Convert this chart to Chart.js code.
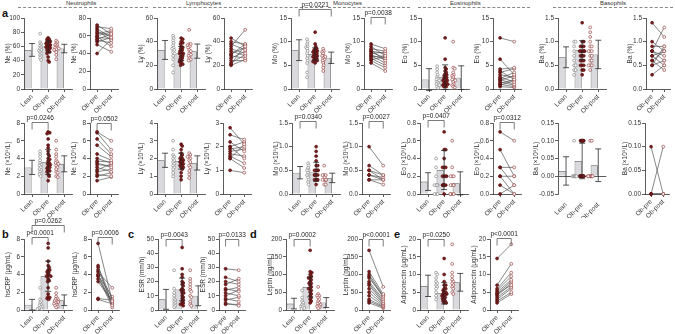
<!DOCTYPE html>
<html>
<head>
<meta charset="utf-8">
<script src="https://cdn.jsdelivr.net/npm/chart.js@4.4.1/dist/chart.umd.min.js"></script>
<style>
  body { margin:0; background:#fff; width:675px; height:334px; position:relative; overflow:hidden;
         font-family:'Liberation Sans', Arial, sans-serif; }
  canvas { position:absolute; }
  .ln { position:absolute; top:7px; height:0; border-top:1px dashed #888; }
  .st { position:absolute; top:0; font-size:6px; line-height:7px; color:#333; white-space:nowrap; }
  .lt { position:absolute; font-size:11px; font-weight:bold; color:#111; line-height:11px; }
</style>
</head>
<body>
<div class="ln" style="left:18px;width:130px"></div>
<div class="ln" style="left:153px;width:170px"></div>
<div class="ln" style="left:328px;width:82px"></div>
<div class="ln" style="left:418px;width:112px"></div>
<div class="ln" style="left:553px;width:120px"></div>
<div class="st" style="left:66px">Neutrophils</div>
<div class="st" style="left:186px">Lymphocytes</div>
<div class="st" style="left:333px">Monocytes</div>
<div class="st" style="left:450px">Eosinophils</div>
<div class="st" style="left:600px">Basophils</div>
<div class="lt" style="left:2px;top:8px">a</div>
<div class="lt" style="left:2px;top:229px">b</div>
<div class="lt" style="left:128px;top:229px">c</div>
<div class="lt" style="left:250px;top:229px">d</div>
<div class="lt" style="left:394px;top:229px">e</div>
<script>
// --- categories ---
const barCats = ['Lean', 'Ob-pre', 'Ob-post'];
const pairCats = ['Ob-pre', 'Ob-post'];

// --- row a: percentages ---
const nePctLean = [78, 66, 63, 61, 59, 57, 55, 54, 52, 50, 48, 46, 44, 41];
const nePctPre  = [72, 70, 68, 66, 64, 62, 60, 59, 58, 56, 55, 53, 50, 40];
const nePctPost = [62, 68, 58, 55, 60, 66, 64, 48, 57, 62, 52, 58, 42, 56];
const nePctPreX = [70, 67, 65, 63, 61, 58, 52, 45, 38];
const nePctMean = [55, 60, 57];
const nePctSd   = [9, 8, 6];

const lyPctLean = [45, 43, 41, 39, 37, 35, 34, 33, 31, 30, 28, 25, 20, 14];
const lyPctPre  = [43, 40, 38, 36, 34, 32, 30, 29, 28, 26, 24, 22, 21, 20];
const lyPctPost = [36, 38, 33, 50, 30, 28, 35, 38, 26, 32, 24, 29, 37, 25];
const lyPctPreX = [42, 39, 35, 33, 31, 30, 27, 25, 23];
const lyPctMean = [33, 30, 32];
const lyPctSd   = [8, 6, 6];

const moPctLean = [10.5, 10, 9.5, 9, 8.8, 8.5, 8, 7.5, 7, 6.5, 6, 5.5, 3.5, 2.5];
const moPctPre  = [9.5, 9, 8.5, 8.2, 8, 7.8, 7.5, 7.2, 7, 6.8, 6.5, 6.2, 6, 5.5];
const moPctPost = [8.5, 7, 8, 6, 7.5, 6.5, 7.8, 6.2, 5.5, 7, 5, 6.8, 4.5, 3.8];
const moPctPreX = [12, 8.5, 8, 7.5, 7, 6.5, 6, 5.8];
const moPctMean = [8.2, 7.4, 6.6];
const moPctSd   = [2.2, 1.3, 1.2];

const eoPctLean = [4.8, 4.2, 3.5, 3, 2.5, 2.2, 2, 1.8, 1.5, 1.2, 1, 0.8, 0.5, 0.2];
const eoPctPre  = [10.8, 6.3, 4.2, 3.8, 3.5, 3, 2.5, 2.2, 2, 1.8, 1.5, 1.2, 1, 0.8, 0.5];
const eoPctPost = [10, 3, 4.5, 2, 4.3, 2.5, 1.5, 3.5, 1, 2.8, 0.8, 2, 0.5, 1.8, 0.3];
const eoPctPreX = [4.5, 3.2, 2.8, 2.4, 1.8, 1.2, 0.8, 0.5];
const eoPctMean = [2.0, 2.5, 2.4];
const eoPctSd   = [2.3, 2.6, 2.5];

const baPctLean  = [1.0, 1.0, 0.9, 0.8, 0.7, 0.6, 0.5, 0.5, 0.4, 0.4, 0.3];
const baPctPre   = [1.4, 1.0, 0.9, 0.8, 0.8, 0.8, 0.7, 0.7, 0.6, 0.6, 0.5, 0.5, 0.3];
const baPctPost  = [1.1, 0.8, 0.9, 0.7, 1.3, 0.6, 0.8, 0.5, 0.8, 0.4, 0.9, 0.6, 0.5];
const baPctPreX  = [1.0, 0.9, 0.9, 0.8, 0.8, 0.8, 0.7, 0.7, 0.6, 0.5, 0.4, 0.4];
const baPctPostX = [1.2, 1.0, 0.7, 0.5];
const baPctMean  = [0.67, 0.82, 0.73];
const baPctSd    = [0.22, 0.2, 0.3];

// --- row a: absolute counts (x10^9/L) ---
const neAbsLean = [4.8, 4.5, 4.2, 3.8, 3.5, 3.3, 3.2, 3.0, 2.8, 2.7, 2.5, 2.3, 2.2, 2.0];
const neAbsPre  = [7.0, 6.9, 6.2, 5.5, 4.5, 4.0, 3.7, 3.5, 3.3, 3.0, 2.7, 2.5, 2.2, 2.0, 1.5];
const neAbsPost = [6.0, 5.0, 4.5, 4.2, 3.8, 3.5, 3.6, 3.0, 3.2, 2.5, 3.4, 2.8, 2.0, 2.4, 1.9];
const neAbsPreX = [6.8, 5.2, 4.8, 4.3, 3.9, 3.4, 3.1, 2.9, 2.6];
const neAbsMean = [3.0, 3.6, 3.4];
const neAbsSd   = [0.8, 1.4, 0.9];

const lyAbsLean = [3.0, 2.5, 2.2, 2.1, 2.0, 1.9, 1.8, 1.7, 1.6, 1.5, 1.4, 1.2, 1.0];
const lyAbsPre  = [2.8, 2.5, 2.2, 2.0, 2.0, 1.9, 1.8, 1.7, 1.6, 1.5, 1.5, 1.0];
const lyAbsPost = [2.1, 2.3, 1.8, 2.2, 1.5, 2.0, 1.9, 1.6, 1.3, 1.1, 2.1, 0.9];
const lyAbsPreX = [2.7, 2.3, 2.1, 1.9, 1.8, 1.7, 1.6, 1.4, 1.2, 0.8];
const lyAbsMean = [1.9, 1.85, 1.75];
const lyAbsSd   = [0.4, 0.45, 0.4];

const moAbsLean  = [0.65, 0.6, 0.55, 0.5, 0.5, 0.45, 0.4, 0.4, 0.35, 0.3, 0.25, 0.2];
const moAbsPre   = [1.0, 0.6, 0.5, 0.5, 0.4, 0.4, 0.3, 0.3];
const moAbsPost  = [0.6, 0.4, 0.3, 0.4, 0.3, 0.35, 0.2, 0.3];
const moAbsPreX  = [0.9, 0.8, 0.7, 0.6, 0.5, 0.5, 0.4, 0.4, 0.3, 0.3, 0.2];
const moAbsPostX = [0.4, 0.3, 0.3, 0.2];
const moAbsMean  = [0.45, 0.47, 0.34];
const moAbsSd    = [0.13, 0.2, 0.1];

const eoAbsLean  = [0.4, 0.3, 0.2, 0.1, 0.1, 0.1, 0.1, 0.1, 0.0, 0.0, 0.0];
const eoAbsPre   = [0.7, 0.5, 0.3, 0.3, 0.2, 0.2, 0.1, 0.0];
const eoAbsPost  = [0.6, 0.2, 0.3, 0.1, 0.0, 0.2, 0.0, 0.1];
const eoAbsPreX  = [0.5, 0.4, 0.3, 0.2, 0.2, 0.1, 0.1, 0.1, 0.1, 0.1];
const eoAbsPostX = [0.2, 0.1, 0.1, 0.0, 0.0];
const eoAbsMean  = [0.14, 0.27, 0.12];
const eoAbsSd    = [0.1, 0.22, 0.13];

const baAbsLean  = [0.10, 0, 0, 0, 0, 0, 0, 0, 0, 0, 0];
const baAbsPre   = [0.10, 0, 0, 0, 0];
const baAbsPost  = [0, 0.10, 0, 0, 0];
const baAbsPreX  = [0.10, 0.10, 0.10, 0.10, 0.10, 0.10, 0.10, 0, 0, 0, 0, 0, 0, 0, 0];
const baAbsPostX = [0.10, 0, 0, 0, 0, 0, 0, 0];
const baAbsMean  = [0.015, 0.043, 0.031];
const baAbsSd    = [0.04, 0.05, 0.046];

// --- rows b-e ---
const crpLean  = [2.5, 1.2, 1.0, 0.8, 0.6, 0.5, 0.4, 0.3, 0.2, 0.1, 0.1];
const crpPre   = [7.5, 5.0, 4.8, 4.5, 4.3, 4.0, 3.9, 3.8, 3.5, 3.2, 1.3, 1.2];
const crpPost  = [1.0, 0.5, 1.2, 0.8, 2.5, 0.6, 1.5, 0.3, 1.0, 0.9, 1.1, 0.7];
const crpPreX  = [7.0, 5.5, 4.5, 4.2, 3.8, 3.3, 2.5, 1.8, 1.5, 1.4];
const crpPostX = [1.9, 1.3, 0.9, 0.4];
const crpMean  = [0.6, 3.8, 1.1];
const crpSd    = [0.6, 1.7, 0.6];

const esrLean = [28, 15, 12, 10, 8, 7, 6, 5, 4, 3, 2];
const esrPre  = [29, 23, 20, 18, 15, 14, 12, 10, 8, 7, 5, 4];
const esrPost = [28, 20, 18, 22, 13, 16, 10, 14, 6, 9, 3, 4];
const esrPreX = [44, 25, 19, 17, 14, 12, 9, 6, 4, 3];
const esrMean = [7.5, 14.5, 10];
const esrSd   = [7, 8, 7];

const lepLean = [55, 35, 25, 20, 15, 12, 10, 8, 5, 3];
const lepPre  = [168, 108, 100, 95, 90, 80, 75, 70, 60, 50, 40, 30, 25, 20];
const lepPost = [65, 45, 40, 35, 40, 30, 25, 20, 18, 15, 12, 10, 8, 5];
const lepPreX = [105, 90, 85, 75, 65, 60, 55, 45, 35];
const lepMean = [18, 65, 21];
const lepSd   = [15, 28, 14];

const adpLean = [10.5, 10, 9, 8, 7.5, 7, 6.5, 6, 5, 4, 3];
const adpPre  = [14.5, 7, 6, 5.5, 5, 4.5, 4.5, 4, 3.5, 3, 2.5, 2];
const adpPost = [18.5, 13, 10.5, 9.5, 8.5, 8, 7, 7.5, 6.5, 6, 5, 4.5];
const adpPreX = [10, 8, 7, 6, 5, 4.2, 3.8, 3.2, 2.5, 2];
const adpMean = [6.8, 4.7, 7.8];
const adpSd   = [3, 3, 2.5];

// --- look ---
const FONT = "'Liberation Sans', Arial, sans-serif";
const AXIS = '#333';
const BAR_FILL = '#d9d9de', BAR_EDGE = '#555';
const LEAN_EDGE = '#8a8a8a', PRE_FILL = '#7a1f1f', PRE_EDGE = '#561010', POST_EDGE = '#9a4848';
const PAIR_LINE = '#555';
const PH = 71, YW = 24, XH = 24, PAD_R = 3, BAR_W = 50, PAIR_W = 30;
const ROW_TOP = [18, 123, 239];
const PAD_TOP = [16, 16, 22];
const DOT_R = 1.45;

Chart.defaults.font.family = FONT;
Chart.defaults.font.size = 6.5;
Chart.defaults.color = '#333';

// error bars (mean +/- SD)
Chart.register({
  id: 'errBars',
  afterDatasetsDraw(chart, args, o) {
    if (!o || !o.mean) return;
    const ctx = chart.ctx, xs = chart.scales.x, ys = chart.scales.y;
    ctx.save();
    ctx.strokeStyle = '#2a2a2a';
    ctx.lineWidth = 0.8;
    o.mean.forEach((m, i) => {
      const cx = xs.getPixelForValue(i);
      const lo = ys.getPixelForValue(m - o.sd[i]), hi = ys.getPixelForValue(m + o.sd[i]);
      ctx.beginPath();
      ctx.moveTo(cx, lo); ctx.lineTo(cx, hi);
      ctx.moveTo(cx - 3, lo); ctx.lineTo(cx + 3, lo);
      ctx.moveTo(cx - 3, hi); ctx.lineTo(cx + 3, hi);
      ctx.stroke();
    });
    ctx.restore();
  }
});

// significance brackets
Chart.register({
  id: 'sig',
  afterDraw(chart, args, o) {
    if (!o || !o.list) return;
    const ctx = chart.ctx, xs = chart.scales.x, ys = chart.scales.y;
    ctx.save();
    ctx.strokeStyle = '#444';
    ctx.lineWidth = 0.7;
    ctx.fillStyle = '#222';
    ctx.font = '6.5px ' + FONT;
    ctx.textAlign = 'center';
    ctx.textBaseline = 'bottom';
    o.list.forEach(b => {
      const x1 = xs.getPixelForValue(b[0]), x2 = xs.getPixelForValue(b[1]);
      const yy = Math.round(ys.getPixelForValue(b[2])) + 0.5;
      ctx.beginPath();
      ctx.moveTo(x1, yy + 7); ctx.lineTo(x1, yy); ctx.lineTo(x2, yy); ctx.lineTo(x2, yy + 7);
      ctx.stroke();
      ctx.fillText(b[3], (x1 + x2) / 2, yy - 1.5);
    });
    ctx.restore();
  }
});

// horizontal spread of dots with close values, kept inside the bar
function swarm(vals, ci, pxPerUnit, catPx) {
  const idx = vals.map((v, i) => i).sort((a, b) => vals[b] - vals[a]);
  const placed = [], out = [];
  idx.forEach((i, n) => {
    const py = vals[i] * pxPerUnit;
    let dx = null;
    for (let k = 0; k < 11; k++) {
      const c = (k % 2 ? 1 : -1) * Math.ceil(k / 2) * 1.1;
      if (placed.every(p => (p[0] - c) ** 2 + (p[1] - py) ** 2 >= 6.5)) { dx = c; break; }
    }
    if (dx === null) dx = ((n % 11) - 5) * 1.0;
    placed.push([dx, py]);
    out.push({ x: ci + dx / catPx, y: vals[i] });
  });
  return out;
}

function addCanvas(left, top, w, h) {
  const c = document.createElement('canvas');
  c.width = w; c.height = h;
  c.style.left = left + 'px'; c.style.top = top + 'px';
  c.style.width = w + 'px'; c.style.height = h + 'px';
  document.body.appendChild(c);
  return c;
}

function makePanel(p) {
  const bar = p.kind === 'bar';
  const pw = p.w || (bar ? BAR_W : PAIR_W);
  const yw = p.yw || YW;
  const cv = addCanvas(p.ax - yw, ROW_TOP[p.row] - PAD_TOP[p.row], yw + pw + PAD_R, PAD_TOP[p.row] + PH + XH);
  const dec = p.dec || 0;
  const scales = {
    x: {
      type: 'category', offset: true,
      grid: { display: !p.zero, drawOnChartArea: false, offset: false, tickLength: 3, color: AXIS, lineWidth: 0.8 },
      border: { display: !p.zero, color: AXIS, width: 0.8 },
      ticks: { minRotation: 45, maxRotation: 45, autoSkip: false, padding: p.zero ? 4 : 1 },
      afterFit: s => { s.height = XH; }
    },
    y: {
      min: p.min, max: p.max,
      ticks: { stepSize: p.step, padding: 1, callback: v => Number(v).toFixed(dec) },
      grid: {
        drawOnChartArea: !!p.zero, tickLength: 3, lineWidth: 0.8, tickColor: AXIS,
        color: c => (p.zero && c.tick && Math.abs(c.tick.value) < 1e-9) ? AXIS : 'rgba(0,0,0,0)'
      },
      border: { color: AXIS, width: 0.8 },
      title: { display: true, text: p.title, padding: { top: 4, bottom: 0 } },
      afterFit: s => { s.width = yw; }
    }
  };
  let datasets;
  if (bar) {
    scales.xj = { type: 'linear', display: false, min: -0.5, max: 2.5 };
    const pxPerUnit = PH / (p.max - p.min), catPx = pw / 3;
    const groups = [p.lean, p.pre, p.post];
    const fills = ['#fff', PRE_FILL, '#fff'], edges = [LEAN_EDGE, PRE_EDGE, POST_EDGE];
    datasets = [{
      type: 'bar', data: p.mean, backgroundColor: BAR_FILL, borderColor: BAR_EDGE, borderWidth: 0.8,
      barPercentage: 0.88, categoryPercentage: 1, order: 10
    }];
    groups.forEach((g, ci) => datasets.push({
      type: 'scatter', xAxisID: 'xj', data: swarm(g, ci, pxPerUnit, catPx), clip: false,
      pointRadius: DOT_R, pointBackgroundColor: fills[ci], pointBorderColor: edges[ci], pointBorderWidth: 0.7, order: 5
    }));
  } else {
    datasets = p.pre.map((v, i) => ({
      type: 'line', data: [v, p.post[i]], borderColor: PAIR_LINE, borderWidth: 0.7, tension: 0, clip: false,
      pointRadius: DOT_R, pointBackgroundColor: [PRE_FILL, '#fff'], pointBorderColor: [PRE_EDGE, POST_EDGE],
      pointBorderWidth: 0.7
    }));
  }
  new Chart(cv, {
    type: bar ? 'bar' : 'line',
    data: { labels: bar ? barCats : pairCats, datasets },
    options: {
      responsive: false, animation: false, devicePixelRatio: 1, events: [],
      layout: { padding: { top: PAD_TOP[p.row], right: PAD_R, left: 0, bottom: 0 } },
      plugins: {
        legend: { display: false }, tooltip: { enabled: false },
        errBars: bar ? { mean: p.mean, sd: p.sd } : {},
        sig: { list: p.sig || [] }
      },
      scales
    }
  });
}

const cat = (a, b) => b ? a.concat(b) : a;
const panels = [
  // row 1
  { kind: 'bar', row: 0, ax: 24, lean: nePctLean, pre: cat(nePctPre, nePctPreX), post: nePctPost, mean: nePctMean, sd: nePctSd, min: 0, max: 100, step: 20, title: 'Ne (%)' },
  { kind: 'pair', row: 0, ax: 90, pre: nePctPre, post: nePctPost, min: 0, max: 80, step: 20, title: 'Ne (%)' },
  { kind: 'bar', row: 0, ax: 157, lean: lyPctLean, pre: cat(lyPctPre, lyPctPreX), post: lyPctPost, mean: lyPctMean, sd: lyPctSd, min: 0, max: 60, step: 20, title: 'Ly (%)' },
  { kind: 'pair', row: 0, ax: 224, pre: lyPctPre, post: lyPctPost, min: 0, max: 60, step: 20, title: 'Ly (%)' },
  { kind: 'bar', row: 0, ax: 291, lean: moPctLean, pre: cat(moPctPre, moPctPreX), post: moPctPost, mean: moPctMean, sd: moPctSd, min: 0, max: 15, step: 5, title: 'Mo (%)', sig: [[0, 2, 16.8, 'p=0.0221']] },
  { kind: 'pair', row: 0, ax: 364, pre: moPctPre, post: moPctPost, min: 0, max: 15, step: 5, title: 'Mo (%)', sig: [[0, 1, 15.3, 'p=0.0038']] },
  { kind: 'bar', row: 0, ax: 421, lean: eoPctLean, pre: cat(eoPctPre, eoPctPreX), post: eoPctPost, mean: eoPctMean, sd: eoPctSd, min: 0, max: 15, step: 5, title: 'Eo (%)' },
  { kind: 'pair', row: 0, ax: 493, pre: eoPctPre, post: eoPctPost, min: 0, max: 15, step: 5, title: 'Eo (%)' },
  { kind: 'bar', row: 0, ax: 558, lean: baPctLean, pre: cat(baPctPre, baPctPreX), post: cat(baPctPost, baPctPostX), mean: baPctMean, sd: baPctSd, min: 0, max: 1.5, step: 0.5, dec: 1, title: 'Ba (%)' },
  { kind: 'pair', row: 0, ax: 646, w: 26, pre: baPctPre, post: baPctPost, min: 0, max: 1.5, step: 0.5, dec: 1, title: 'Ba (%)' },
  // row 2
  { kind: 'bar', row: 1, ax: 24, lean: neAbsLean, pre: cat(neAbsPre, neAbsPreX), post: neAbsPost, mean: neAbsMean, sd: neAbsSd, min: 0, max: 8, step: 2, title: 'Ne (×10⁹/L)', sig: [[0, 1, 8.1, 'p=0.0246']] },
  { kind: 'pair', row: 1, ax: 90, pre: neAbsPre, post: neAbsPost, min: 0, max: 8, step: 2, title: 'Ne (×10⁹/L)', sig: [[0, 1, 8.0, 'p=0.0502']] },
  { kind: 'bar', row: 1, ax: 157, lean: lyAbsLean, pre: cat(lyAbsPre, lyAbsPreX), post: lyAbsPost, mean: lyAbsMean, sd: lyAbsSd, min: 0, max: 4, step: 1, title: 'Ly (×10⁹/L)' },
  { kind: 'pair', row: 1, ax: 223, pre: lyAbsPre, post: lyAbsPost, min: 0, max: 3, step: 1, title: 'Ly (×10⁹/L)' },
  { kind: 'bar', row: 1, ax: 292, lean: moAbsLean, pre: cat(moAbsPre, moAbsPreX), post: cat(moAbsPost, moAbsPostX), mean: moAbsMean, sd: moAbsSd, min: 0, max: 1.5, step: 0.5, dec: 1, title: 'Mo (×10⁹/L)', sig: [[0, 1, 1.55, 'p=0.0340']] },
  { kind: 'pair', row: 1, ax: 362, pre: moAbsPre, post: moAbsPost, min: 0, max: 1.5, step: 0.5, dec: 1, title: 'Mo (×10⁹/L)', sig: [[0, 1, 1.55, 'p=0.0027']] },
  { kind: 'bar', row: 1, ax: 420, lean: eoAbsLean, pre: cat(eoAbsPre, eoAbsPreX), post: cat(eoAbsPost, eoAbsPostX), mean: eoAbsMean, sd: eoAbsSd, min: 0, max: 0.8, step: 0.2, dec: 1, title: 'Eo (×10⁹/L)', sig: [[0, 1, 0.83, 'p=0.0407']] },
  { kind: 'pair', row: 1, ax: 493, pre: eoAbsPre, post: eoAbsPost, min: 0, max: 0.8, step: 0.2, dec: 1, title: 'Eo (×10⁹/L)', sig: [[0, 1, 0.81, 'p=0.0312']] },
  { kind: 'bar', row: 1, ax: 558, yw: 30, zero: true, lean: baAbsLean, pre: cat(baAbsPre, baAbsPreX), post: cat(baAbsPost, baAbsPostX), mean: baAbsMean, sd: baAbsSd, min: -0.05, max: 0.15, step: 0.05, dec: 2, title: 'Ba (×10⁹/L)' },
  { kind: 'pair', row: 1, ax: 645, yw: 28, w: 26, pre: baAbsPre, post: baAbsPost, min: 0, max: 0.15, step: 0.05, dec: 2, title: 'Ba (×10⁹/L)' },
  // row 3
  { kind: 'bar', row: 2, ax: 24, lean: crpLean, pre: cat(crpPre, crpPreX), post: cat(crpPost, crpPostX), mean: crpMean, sd: crpSd, min: 0, max: 8, step: 2, title: 'hsCRP (μg/mL)', sig: [[0, 1, 8.2, 'p<0.0001'], [0, 2, 9.6, 'p=0.0262']] },
  { kind: 'pair', row: 2, ax: 91, pre: crpPre, post: crpPost, min: 0, max: 8, step: 2, title: 'hsCRP (μg/mL)', sig: [[0, 1, 8.2, 'p=0.0006']] },
  { kind: 'bar', row: 2, ax: 158, lean: esrLean, pre: cat(esrPre, esrPreX), post: esrPost, mean: esrMean, sd: esrSd, min: 0, max: 50, step: 10, title: 'ESR (mm/h)', sig: [[0, 1, 49.8, 'p=0.0043']] },
  { kind: 'pair', row: 2, ax: 219, w: 28, pre: esrPre, post: esrPost, min: 0, max: 50, step: 10, title: 'ESR (mm/h)', sig: [[0, 1, 49.8, 'p=0.0133']] },
  { kind: 'bar', row: 2, ax: 286, lean: lepLean, pre: cat(lepPre, lepPreX), post: lepPost, mean: lepMean, sd: lepSd, min: 0, max: 200, step: 50, title: 'Leptin (ng/mL)', sig: [[0, 1, 199, 'p=0.0002']] },
  { kind: 'pair', row: 2, ax: 362, pre: lepPre, post: lepPost, min: 0, max: 200, step: 50, title: 'Leptin (ng/mL)', sig: [[0, 1, 199, 'p<0.0001']] },
  { kind: 'bar', row: 2, ax: 420, lean: adpLean, pre: cat(adpPre, adpPreX), post: adpPost, mean: adpMean, sd: adpSd, min: 0, max: 20, step: 5, title: 'Adiponectin (μg/mL)', sig: [[0, 1, 19.9, 'p=0.0250']] },
  { kind: 'pair', row: 2, ax: 490, pre: adpPre, post: adpPost, min: 0, max: 20, step: 5, title: 'Adiponectin (μg/mL)', sig: [[0, 1, 20.4, 'p<0.0001']] }
];

panels.forEach(makePanel);
</script>
</body>
</html>
